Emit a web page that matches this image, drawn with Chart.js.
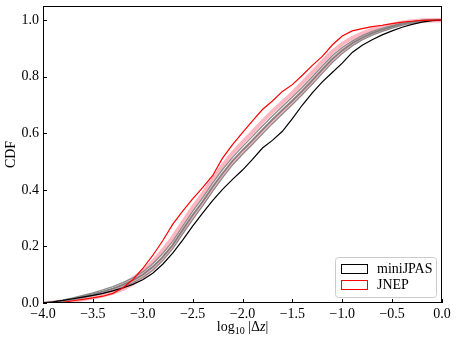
<!DOCTYPE html>
<html>
<head>
<meta charset="utf-8">
<script src="https://cdn.jsdelivr.net/npm/chart.js@4.4.0/dist/chart.umd.min.js"></script>
<style>
  body { margin: 0; background: #fff; }
  canvas { display: block; }
</style>
</head>
<body>
<canvas id="cdfChart" width="458" height="343"></canvas>
<script>
// log10 |dz| grid
const logDz = [-4.0, -3.9, -3.8, -3.7, -3.6, -3.5, -3.4, -3.3, -3.2, -3.1,
               -3.0, -2.9, -2.8, -2.7, -2.6, -2.5, -2.4, -2.3, -2.2, -2.1,
               -2.0, -1.9, -1.8, -1.7, -1.6, -1.5, -1.4, -1.3, -1.2, -1.1,
               -1.0, -0.9, -0.8, -0.7, -0.6, -0.5, -0.4, -0.3, -0.2, -0.1, 0.0];

const miniJPAS = [0, 0.004, 0.009, 0.015, 0.021, 0.027, 0.034, 0.043, 0.053, 0.066,
                  0.082, 0.105, 0.137, 0.176, 0.222, 0.272, 0.318, 0.362, 0.402, 0.437,
                  0.470, 0.508, 0.548, 0.575, 0.607, 0.652, 0.700, 0.743, 0.782, 0.815,
                  0.848, 0.886, 0.911, 0.931, 0.948, 0.962, 0.975, 0.985, 0.993, 0.998, 1.0];

const jnep = [0, 0, 0.002, 0.008, 0.013, 0.018, 0.024, 0.034, 0.053, 0.082,
              0.122, 0.168, 0.220, 0.278, 0.325, 0.368, 0.408, 0.450, 0.512, 0.560,
              0.602, 0.644, 0.684, 0.714, 0.748, 0.772, 0.805, 0.840, 0.872, 0.912,
              0.944, 0.962, 0.970, 0.977, 0.982, 0.988, 0.993, 0.996, 0.999, 1.0, 1.0];

// resampled curves (grey)
const greyLow = [0, 0.002, 0.006, 0.012, 0.019, 0.026, 0.034, 0.044, 0.056, 0.071,
                 0.090, 0.116, 0.150, 0.192, 0.244, 0.295, 0.343, 0.395, 0.443, 0.488,
                 0.526, 0.561, 0.598, 0.634, 0.668, 0.702, 0.737, 0.774, 0.812, 0.850,
                 0.882, 0.909, 0.930, 0.947, 0.960, 0.972, 0.982, 0.990, 0.996, 0.999, 1.0];
const greyMid = [0, 0.003, 0.008, 0.015, 0.023, 0.031, 0.040, 0.051, 0.064, 0.080,
                 0.100, 0.128, 0.162, 0.205, 0.258, 0.310, 0.358, 0.410, 0.458, 0.502,
                 0.540, 0.575, 0.612, 0.648, 0.682, 0.715, 0.750, 0.787, 0.825, 0.862,
                 0.893, 0.918, 0.938, 0.954, 0.966, 0.977, 0.986, 0.993, 0.998, 1.0, 1.0];
const greyHigh = [0, 0.004, 0.010, 0.018, 0.027, 0.036, 0.046, 0.058, 0.072, 0.089,
                  0.110, 0.139, 0.175, 0.218, 0.271, 0.324, 0.372, 0.424, 0.472, 0.515,
                  0.553, 0.589, 0.626, 0.661, 0.695, 0.728, 0.763, 0.800, 0.838, 0.874,
                  0.903, 0.926, 0.945, 0.960, 0.971, 0.981, 0.989, 0.995, 0.999, 1.0, 1.0];

// resampled curves (pink)
const pinkLow = [0, 0.001, 0.004, 0.008, 0.013, 0.019, 0.026, 0.036, 0.050, 0.068,
                 0.092, 0.122, 0.158, 0.200, 0.252, 0.305, 0.352, 0.405, 0.452, 0.497,
                 0.535, 0.571, 0.608, 0.644, 0.678, 0.712, 0.747, 0.785, 0.823, 0.860,
                 0.892, 0.918, 0.938, 0.954, 0.966, 0.977, 0.986, 0.993, 0.998, 1.0, 1.0];
const pinkHigh = [0, 0.002, 0.006, 0.012, 0.018, 0.025, 0.033, 0.045, 0.062, 0.085,
                  0.112, 0.145, 0.186, 0.232, 0.284, 0.338, 0.385, 0.436, 0.485, 0.530,
                  0.568, 0.604, 0.642, 0.677, 0.710, 0.742, 0.778, 0.815, 0.853, 0.888,
                  0.916, 0.937, 0.953, 0.966, 0.976, 0.984, 0.991, 0.996, 0.999, 1.0, 1.0];

const xTicks = [-4.0, -3.5, -3.0, -2.5, -2.0, -1.5, -1.0, -0.5, 0.0];
const yTicks = [0.0, 0.2, 0.4, 0.6, 0.8, 1.0];

const legendItems = [
    { label: 'miniJPAS', color: '#000000' },
    { label: 'JNEP', color: '#ff0000' }
];

const serif = '"Liberation Serif", "DejaVu Serif", serif';

function points(ys) {
    return logDz.map((x, i) => ({ x: x, y: ys[i] }));
}

function fmt(v) {
    return v.toFixed(1).replace('-', '\u2212');
}

function line(data, color, width, order) {
    return {
        data: points(data),
        borderColor: color,
        borderWidth: width,
        pointRadius: 0,
        fill: false,
        tension: 0,
        order: order
    };
}

// box, inward ticks, x title and legend
const decorations = {
    id: 'decorations',
    afterDatasetsDraw(chart) {
        const ctx = chart.ctx;
        const a = chart.chartArea;
        const xs = chart.scales.x;
        const ys = chart.scales.y;
        ctx.save();
        ctx.strokeStyle = '#000';
        ctx.lineWidth = 1;
        ctx.strokeRect(a.left + 0.5, a.top + 0.5, a.right - a.left - 1, a.bottom - a.top - 1);
        ctx.beginPath();
        xTicks.forEach(v => {
            const px = Math.round(xs.getPixelForValue(v)) + 0.5;
            ctx.moveTo(px, a.bottom);
            ctx.lineTo(px, a.bottom - 4);
        });
        yTicks.forEach(v => {
            const py = Math.round(ys.getPixelForValue(v)) + 0.5;
            ctx.moveTo(a.left, py);
            ctx.lineTo(a.left + 4, py);
        });
        ctx.stroke();

        // x axis title: log10 |Δz|
        ctx.fillStyle = '#000';
        ctx.textBaseline = 'alphabetic';
        ctx.textAlign = 'left';
        const parts = [
            { t: 'log', f: '14px ' + serif, dy: 0 },
            { t: '10', f: '10px ' + serif, dy: 3 },
            { t: ' |\u0394', f: '14px ' + serif, dy: 0 },
            { t: 'z', f: 'italic 14px ' + serif, dy: 0 },
            { t: '|', f: '14px ' + serif, dy: 0 }
        ];
        let total = 0;
        parts.forEach(p => { ctx.font = p.f; p.w = ctx.measureText(p.t).width; total += p.w; });
        let cx = (a.left + a.right) / 2 - total / 2;
        const base = 331;
        parts.forEach(p => {
            ctx.font = p.f;
            ctx.fillText(p.t, cx, base + p.dy);
            cx += p.w;
        });

        // legend
        const lx = 335, ly = 257, lw = 101, lh = 40;
        ctx.beginPath();
        ctx.roundRect(lx + 0.5, ly + 0.5, lw, lh, 3);
        ctx.fillStyle = 'rgba(255,255,255,0.8)';
        ctx.fill();
        ctx.strokeStyle = '#cccccc';
        ctx.stroke();
        ctx.font = '14px ' + serif;
        ctx.textBaseline = 'middle';
        legendItems.forEach((it, i) => {
            const y0 = ly + 7 + i * 16;
            ctx.fillStyle = '#fff';
            ctx.fillRect(lx + 6, y0, 26, 9);
            ctx.strokeStyle = it.color;
            ctx.lineWidth = 1;
            ctx.strokeRect(lx + 6.5, y0 + 0.5, 26, 9);
            ctx.fillStyle = '#000';
            ctx.fillText(it.label, lx + 42, y0 + 5);
        });
        ctx.restore();
    }
};

new Chart(document.getElementById('cdfChart'), {
    type: 'line',
    data: {
        datasets: [
            line(pinkLow, '#ffb6c1', 4, 5),
            line(pinkHigh, '#ffb6c1', 4, 5),
            line(greyLow, '#8c8c8c', 1.3, 4),
            line(greyMid, '#808080', 1.8, 4),
            line(greyHigh, '#8c8c8c', 1.3, 4),
            line(miniJPAS, '#000000', 1.2, 1),
            line(jnep, '#ff0000', 1.2, 0)
        ]
    },
    options: {
        responsive: false,
        animation: false,
        layout: { padding: { top: 6, right: 16, left: 0, bottom: 0 } },
        plugins: {
            legend: { display: false },
            tooltip: { enabled: false }
        },
        scales: {
            x: {
                type: 'linear',
                min: -4,
                max: 0,
                grid: { display: false, drawTicks: false },
                border: { display: false },
                ticks: {
                    stepSize: 0.5,
                    padding: 3,
                    color: '#000',
                    font: { family: serif, size: 14 },
                    callback: v => fmt(v)
                },
                afterFit: s => { s.height = 40; s.paddingLeft = 0; s.paddingRight = 0; }
            },
            y: {
                type: 'linear',
                min: 0,
                max: 1.05,
                grid: { display: false, drawTicks: false },
                border: { display: false },
                title: {
                    display: true,
                    text: 'CDF',
                    color: '#000',
                    font: { family: serif, size: 14 },
                    padding: { top: 3, bottom: 0 }
                },
                ticks: {
                    stepSize: 0.2,
                    includeBounds: false,
                    padding: 4,
                    color: '#000',
                    font: { family: serif, size: 14 },
                    callback: v => fmt(v)
                },
                afterFit: s => { s.width = 43; s.paddingTop = 0; s.paddingBottom = 0; }
            }
        }
    },
    plugins: [decorations]
});
</script>
</body>
</html>
